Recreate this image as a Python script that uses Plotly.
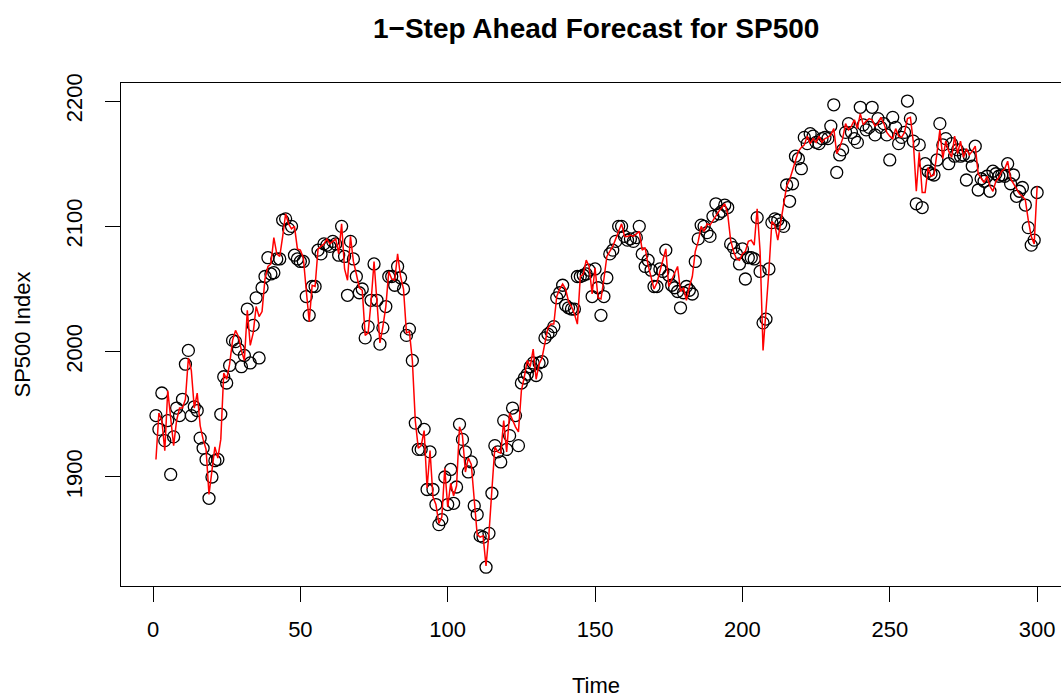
import plotly.graph_objects as go

# Observed SP500 index values, t = 1..300
observed = [
    1949, 1938, 1967, 1929, 1945, 1902, 1932, 1955, 1949, 1962,
    1990, 2001, 1949, 1956, 1953, 1931, 1923, 1914, 1883, 1900,
    1913, 1914, 1950, 1980, 1975, 1989, 2009, 2008, 2002, 1988,
    1997, 2034, 1991, 2021, 2043, 1995, 2051, 2060, 2075, 2062,
    2063, 2074, 2074, 2105, 2106, 2098, 2100, 2077, 2074, 2072,
    2072, 2044, 2029, 2052, 2052, 2081, 2078, 2086, 2085, 2084,
    2088, 2086, 2077, 2100, 2076, 2045, 2088, 2074, 2060, 2047,
    2050, 2011, 2020, 2041, 2070, 2041, 2006, 2019, 2036, 2060,
    2060, 2053, 2068, 2059, 2050, 2013, 2018, 1993, 1943, 1922,
    1922, 1938, 1890, 1920, 1890, 1878, 1862, 1866, 1900, 1878,
    1906, 1879, 1892, 1942, 1930, 1920, 1904, 1912, 1877, 1870,
    1853, 1852, 1828, 1855, 1887, 1925, 1920, 1912, 1945, 1922,
    1933, 1955, 1949, 1925, 1975, 1979, 1982, 1988, 1991, 1981,
    1991, 1992, 2011, 2014, 2016, 2020, 2043, 2047, 2053, 2037,
    2035, 2034, 2034, 2060, 2060, 2061, 2062, 2065, 2044, 2066,
    2051, 2029, 2044, 2059, 2078, 2081, 2088, 2100, 2100, 2092,
    2089, 2090, 2088, 2091, 2100, 2078, 2068, 2073, 2065, 2052,
    2052, 2066, 2064, 2081, 2061, 2053, 2051, 2048, 2035, 2047,
    2052, 2049, 2046, 2072, 2090, 2101, 2100, 2095, 2092, 2108,
    2118, 2110, 2112, 2117, 2115, 2086, 2083, 2078, 2070, 2082,
    2058, 2075, 2075, 2074, 2107, 2064, 2023, 2026, 2066, 2103,
    2106, 2105, 2102, 2100, 2133, 2120, 2134, 2156, 2154, 2146,
    2171, 2166, 2174, 2172, 2167, 2166, 2170, 2171, 2170, 2180,
    2197, 2143, 2157, 2161, 2175, 2182, 2175, 2170, 2167, 2195,
    2181, 2177, 2179, 2195, 2173, 2186, 2179, 2182, 2173, 2153,
    2187, 2179, 2166, 2171, 2175, 2200, 2186, 2168, 2118, 2165,
    2115, 2150, 2144, 2142, 2141, 2153, 2182, 2165, 2170, 2150,
    2166, 2156, 2161, 2156, 2157, 2137, 2156, 2148, 2164, 2129,
    2138, 2136, 2140, 2128, 2144, 2142, 2140, 2141, 2140, 2150,
    2134, 2141, 2124, 2128, 2131, 2117, 2099, 2085, 2089, 2127,
]

# 1-step ahead forecast values (red line), t = 1..300
forecast = [
    1914, 1951, 1945, 1921, 1969, 1945, 1925, 1945, 1955, 1955,
    1962, 1995, 1985, 1955, 1967, 1941, 1930, 1922, 1886, 1905,
    1924, 1915, 1930, 1983, 1978, 1990, 2009, 2017, 2012, 2001,
    1993, 2033, 2005, 2015, 2036, 2028, 2032, 2058, 2068, 2070,
    2091, 2078, 2076, 2092, 2110, 2102, 2098, 2100, 2082, 2081,
    2075, 2049, 2024, 2053, 2052, 2082, 2084, 2086, 2090, 2086,
    2088, 2090, 2078, 2102, 2066, 2057, 2092, 2072, 2062, 2051,
    2049, 2013, 2015, 2040, 2072, 2040, 2007, 2020, 2036, 2064,
    2058, 2057, 2078, 2060, 2050, 2015, 2016, 1993, 1945, 1923,
    1925, 1937, 1891, 1921, 1884, 1878, 1863, 1868, 1907, 1876,
    1895, 1885, 1893, 1940, 1933, 1904, 1915, 1910, 1880, 1854,
    1852, 1853, 1829, 1855, 1890, 1924, 1920, 1919, 1945, 1920,
    1951, 1945, 1940, 1936, 1969, 1980, 1993, 1988, 2002, 1978,
    1990, 1995, 2008, 2019, 2022, 2022, 2044, 2050, 2054, 2050,
    2040, 2036, 2030, 2022, 2060, 2062, 2073, 2068, 2046, 2067,
    2043, 2042, 2058, 2076, 2080, 2084, 2090, 2096, 2102, 2092,
    2092, 2093, 2092, 2094, 2096, 2081, 2083, 2069, 2060, 2050,
    2055, 2064, 2072, 2082, 2052, 2057, 2062, 2068, 2048, 2051,
    2041, 2052, 2060, 2080, 2088, 2100, 2096, 2102, 2101, 2105,
    2108, 2112, 2115, 2118, 2110, 2089, 2080, 2074, 2073, 2078,
    2080, 2088, 2089, 2085, 2114, 2080, 2001, 2030, 2065, 2104,
    2101, 2089, 2104, 2120, 2132, 2137, 2145, 2153, 2160, 2163,
    2165, 2172, 2166, 2170, 2167, 2172, 2167, 2170, 2171, 2173,
    2178, 2158, 2163, 2170, 2182, 2177, 2180, 2185, 2178, 2190,
    2181, 2184, 2186, 2185, 2180, 2182, 2187, 2182, 2175, 2172,
    2170, 2178, 2172, 2171, 2175, 2186, 2187, 2167, 2128, 2159,
    2127, 2127, 2147, 2140, 2141, 2158, 2177, 2154, 2168, 2160,
    2155, 2172, 2158, 2168, 2155, 2162, 2157, 2160, 2164, 2142,
    2138, 2135, 2140, 2132, 2128, 2136, 2139, 2144, 2146, 2152,
    2138, 2134, 2130, 2126, 2124, 2121, 2105, 2092, 2086, 2132,
]

time = list(range(1, len(observed) + 1))
x_ticks = [0, 50, 100, 150, 200, 250, 300]
y_ticks = [1900, 2000, 2100, 2200]

title_text = "1\u2212Step Ahead Forecast for SP500"
x_label = "Time"
y_label = "SP500 Index"

FONT = "Liberation Sans, Arial, Helvetica, sans-serif"

fig = go.Figure()
fig.add_trace(go.Scatter(
    x=time, y=observed, mode="markers",
    marker=dict(symbol="circle-open", size=12, color="black",
                line=dict(color="black", width=1.3)),
    hoverinfo="skip", showlegend=False,
))
fig.add_trace(go.Scatter(
    x=time, y=forecast, mode="lines",
    line=dict(color="#FF0000", width=1.5),
    hoverinfo="skip", showlegend=False,
))

fig.update_layout(
    width=1061, height=698,
    margin=dict(l=121, r=0, t=83, b=112, pad=0),
    paper_bgcolor="white", plot_bgcolor="white",
    font=dict(family=FONT, size=22, color="black"),
    showlegend=False,
    xaxis=dict(
        range=[-10.86, 308.1], tickvals=x_ticks,
        ticks="outside", ticklen=15, tickwidth=1, tickcolor="black",
        ticklabelstandoff=9,
        showline=True, linecolor="black", linewidth=1, mirror=True,
        showgrid=False, zeroline=False,
        tickfont=dict(family=FONT, size=22, color="black"),
    ),
    yaxis=dict(
        range=[1813.0, 2214.4], tickvals=y_ticks,
        ticks="outside", ticklen=15, tickwidth=1, tickcolor="black",
        ticklabelstandoff=14,
        showline=True, linecolor="black", linewidth=1, mirror=False,
        showgrid=False, zeroline=False, tickangle=-90,
        tickfont=dict(family=FONT, size=22, color="black"),
    ),
    annotations=[
        dict(text="<b>" + title_text + "</b>", xref="paper", yref="paper",
             x=0.5053, y=1.1093, xanchor="center", yanchor="middle",
             showarrow=False, font=dict(family=FONT, size=28, color="black")),
        dict(text=x_label, xref="paper", yref="paper",
             x=0.5053, y=-0.1988, xanchor="center", yanchor="middle",
             showarrow=False, font=dict(family=FONT, size=22, color="black")),
        dict(text=y_label, xref="paper", yref="paper",
             x=-0.1053, y=0.5, xanchor="center", yanchor="middle",
             textangle=-90, showarrow=False,
             font=dict(family=FONT, size=22, color="black")),
    ],
)

fig.write_html("out.html", config={"displayModeBar": False})
